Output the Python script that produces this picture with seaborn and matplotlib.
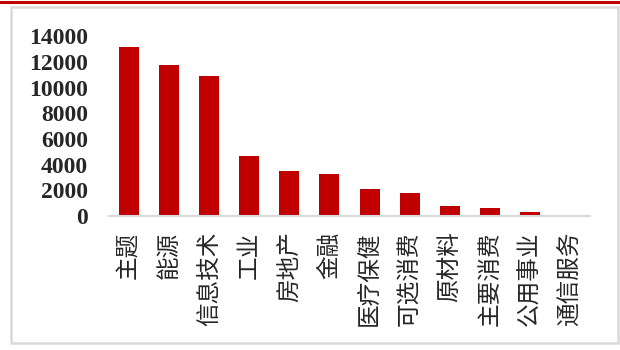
import matplotlib
matplotlib.use("Agg")
import matplotlib.pyplot as plt
from matplotlib.patches import Rectangle
from matplotlib.lines import Line2D
import seaborn as sns

# chart data
categories = ["主题", "能源", "信息技术", "工业", "房地产", "金融",
              "医疗保健", "可选消费", "原材料", "主要消费", "公用事业", "通信服务"]
values = [13200, 11800, 10900, 4700, 3500, 3250, 2100, 1820, 800, 590, 280, 0]
y_ticks = [0, 2000, 4000, 6000, 8000, 10000, 12000, 14000]

BAR_RED = "#c00000"
FRAME_GREY = "#d9d9d9"

sns.set_style("white")
plt.rcParams["font.family"] = ["Noto Sans CJK SC", "DejaVu Sans"]

fig = plt.figure(figsize=(6.2, 3.5), dpi=100)
ax = fig.add_axes([109 / 620, 134 / 350, 481 / 620, 179.5 / 350])

sns.barplot(x=categories, y=values, color=BAR_RED, width=0.5,
            edgecolor="none", saturation=1, ax=ax)

ax.set_ylim(0, 14000)
ax.set_yticks(y_ticks)
ax.set_yticklabels([str(t) for t in y_ticks], family="Liberation Serif",
                   fontweight="bold", fontsize=17)
ax.set_xticks(range(len(categories)))
ax.set_xticklabels(categories, rotation=90, fontsize=17,
                   family=["Noto Sans CJK SC", "DejaVu Sans"])
ax.tick_params(axis="y", length=0, pad=15)
ax.tick_params(axis="x", length=0, pad=11)
ax.set_xlabel("")
ax.set_ylabel("")
ax.set_xlim(-0.5, len(categories) - 0.5)

for side in ["top", "right", "left"]:
    ax.spines[side].set_visible(False)
ax.spines["bottom"].set_color(FRAME_GREY)
ax.spines["bottom"].set_linewidth(1.5)

# outer frame and red top rule
fig.patches.append(Rectangle((11 / 620, 7 / 350), 607 / 620, 336 / 350,
                             transform=fig.transFigure, fill=False,
                             edgecolor=FRAME_GREY, linewidth=1.8))
fig.lines.append(Line2D([0, 1], [1 - 2.3 / 350, 1 - 2.3 / 350],
                        transform=fig.transFigure, color=BAR_RED, linewidth=2.2))

fig.savefig("out.png", dpi=100)
